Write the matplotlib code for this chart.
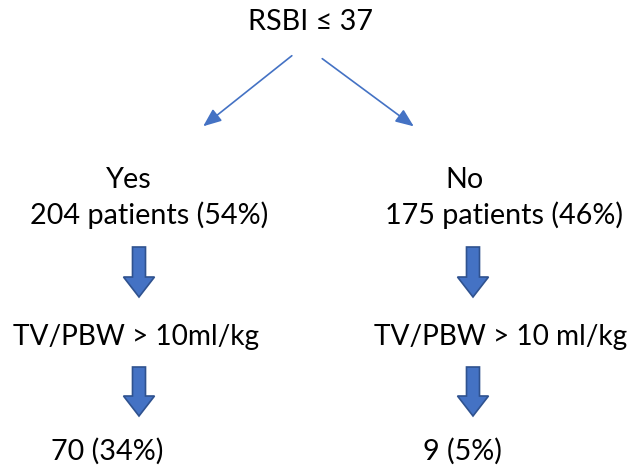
import matplotlib
matplotlib.use("Agg")
import matplotlib.pyplot as plt

# diagram contents
root_label = "RSBI ≤ 37"
branch_labels = ["Yes", "No"]
branch_counts = ["204 patients (54%)", "175 patients (46%)"]
criteria = ["TV/PBW > 10ml/kg", "TV/PBW > 10 ml/kg"]
outcomes = ["70 (34%)", "9 (5%)"]

blue = "#4472C4"
edge = "#2F528F"
plt.rcParams["font.family"] = ["Lato", "DejaVu Sans"]

fig = plt.figure(figsize=(6.31, 4.72), dpi=100)
ax = fig.add_axes([0, 0, 1, 1])
ax.set_xlim(0, 631)
ax.set_ylim(472, 0)
ax.axis("off")

fs = 20.7
ax.text(310, 22, root_label, ha="center", va="center", fontsize=fs)

# thin arrows from root to branches
ax.annotate("", xy=(201, 128), xytext=(294, 54),
            arrowprops=dict(arrowstyle="-|>,head_length=1.1,head_width=0.45",
                            color=blue, lw=1.2))
ax.annotate("", xy=(416, 128), xytext=(320, 57),
            arrowprops=dict(arrowstyle="-|>,head_length=1.1,head_width=0.45",
                            color=blue, lw=1.2))

branch_x = [129, 464]
count_x = [149, 504]
crit_x = [136, 501]
arrow_x = [139, 473]
out_x = [107, 462]

for i in range(2):
    ax.text(branch_x[i], 180, branch_labels[i], ha="center", va="center", fontsize=fs)
    ax.text(count_x[i], 215, branch_counts[i], ha="center", va="center", fontsize=fs)
    ax.text(crit_x[i], 337, criteria[i], ha="center", va="center", fontsize=20.2)
    ax.text(out_x[i], 451, outcomes[i], ha="center", va="center", fontsize=fs)
    for y0, y1 in [(247, 297), (367, 416)]:
        ax.arrow(arrow_x[i], y0, 0, y1 - y0, width=13, head_width=31,
                 head_length=20, length_includes_head=True,
                 fc=blue, ec=edge, lw=1.2)

fig.savefig("out.png", dpi=100)
